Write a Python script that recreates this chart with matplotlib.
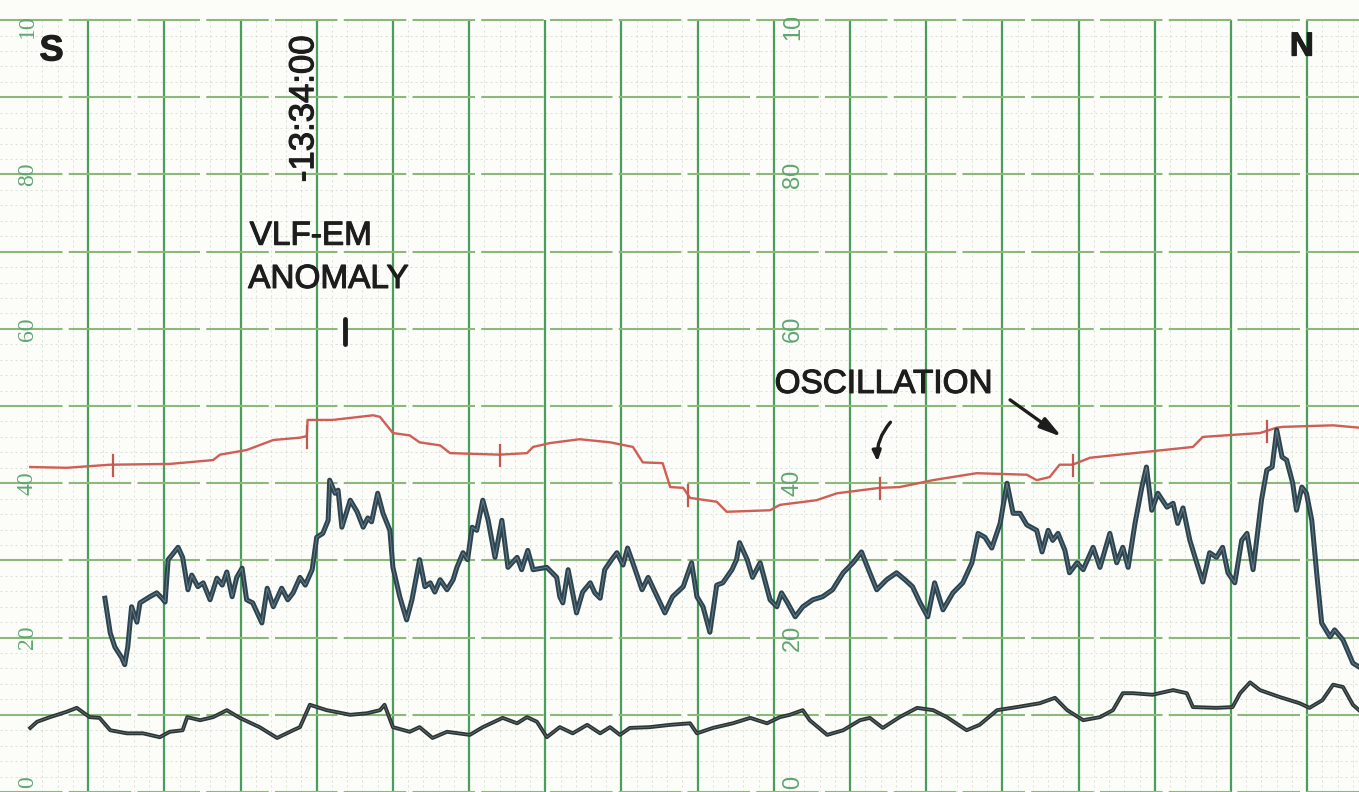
import matplotlib
matplotlib.use("Agg")
import matplotlib.pyplot as plt
import matplotlib.patheffects as pe
import numpy as np
from matplotlib.transforms import Bbox, TransformedBbox

# Strip-chart record: distance along the profile (10 units per major division)
# against chart reading (0-100).

# Upper trace (red pen)
red_x = [2.4, 7.2, 12.9, 20.7, 26.4, 27.3, 30.8, 34.3, 37.8, 38.7,
         38.8, 42.1, 47.4, 48.3, 50.0, 52.2, 53.5, 56.2, 57.5, 64.0,
         67.6, 68.4, 70.6, 74.5, 78.5, 81.5, 82.8, 85.4, 86.4, 88.1,
         89.0, 92.5, 93.8, 99.5, 100.8, 105.6, 108.3, 113.9, 116.5, 120.9,
         126.6, 133.2, 134.5, 136.2, 137.5, 139.2, 141.5, 155.0, 156.3, 163.8,
         166.0, 166.8, 173.4, 176.8]
red_y = [42.1, 42.0, 42.4, 42.5, 43.0, 43.7, 44.3, 45.6, 45.9, 46.1,
         48.2, 48.2, 48.8, 48.6, 46.5, 46.2, 45.3, 44.9, 43.9, 43.7,
         43.9, 44.7, 45.2, 45.7, 45.3, 44.7, 42.7, 42.6, 39.5, 39.4,
         38.1, 37.6, 36.3, 36.5, 37.2, 37.8, 38.7, 39.4, 39.5, 40.4,
         41.3, 41.1, 40.4, 40.8, 42.4, 42.4, 43.3, 44.7, 46.0, 46.5,
         47.2, 47.3, 47.5, 47.2]

# Fiducial marks on the red trace
fiducial_x = [13.3, 38.7, 64.0, 88.7, 113.9, 139.2, 164.7]

# Middle trace (VLF-EM)
vlf_x = [12.2, 12.9, 13.5, 14.4, 14.8, 15.2, 15.7, 16.4, 16.8, 18.1,
         19.0, 19.7, 20.1, 20.5, 21.0, 21.8, 22.4, 23.1, 23.6, 24.4,
         25.1, 26.0, 26.9, 27.6, 28.2, 28.9, 29.5, 30.2, 30.8, 31.6,
         32.8, 33.5, 34.3, 35.4, 36.2, 36.9, 37.8, 38.5, 39.4, 40.0,
         40.8, 41.5, 41.7, 42.4, 42.8, 43.3, 44.4, 45.3, 46.1, 46.7,
         47.2, 48.0, 48.7, 49.6, 50.0, 50.9, 51.8, 52.5, 53.5, 54.2,
         54.9, 55.5, 56.2, 57.1, 57.9, 58.4, 59.2, 59.8, 60.4, 61.0,
         61.8, 62.5, 63.4, 64.3, 65.1, 66.3, 66.9, 67.7, 68.4, 70.2,
         71.5, 71.9, 72.3, 73.0, 74.1, 74.9, 75.9, 76.5, 77.2, 77.8,
         78.7, 79.4, 80.2, 80.8, 81.8, 82.7, 83.5, 84.4, 85.7, 86.7,
         88.1, 89.2, 89.9, 90.7, 91.6, 92.5, 93.3, 94.5, 95.1, 95.5,
         96.5, 97.2, 98.2, 99.5, 100.4, 101.0, 101.8, 102.8, 103.8, 105.1,
         106.4, 107.7, 109.1, 110.4, 111.5, 112.3, 113.5, 114.8, 116.1, 117.2,
         118.2, 119.2, 120.2, 121.1, 122.2, 123.5, 124.8, 126.0, 126.8, 127.7,
         128.6, 129.7, 130.6, 131.4, 132.3, 133.2, 134.5, 135.2, 136.0, 136.6,
         137.3, 138.2, 138.8, 139.8, 140.6, 141.9, 142.8, 144.1, 145.0, 145.8,
         146.5, 147.4, 148.3, 148.9, 149.6, 150.4, 151.6, 152.4, 153.0, 153.7,
         154.6, 155.5, 156.3, 157.2, 158.1, 158.9, 159.6, 160.5, 161.4, 162.1,
         162.9, 164.0, 164.7, 165.4, 166.0, 166.7, 167.3, 168.1, 168.6, 169.3,
         169.9, 170.6, 171.3, 171.9, 173.0, 173.6, 174.7, 176.0, 176.8]
vlf_y = [25.1, 20.6, 18.8, 17.4, 16.5, 18.8, 24.0, 22.0, 24.5, 25.3,
         25.8, 25.1, 24.6, 30.1, 30.7, 31.7, 30.4, 26.2, 28.1, 26.6,
         27.1, 24.9, 27.7, 26.8, 28.5, 25.3, 27.8, 29.0, 24.9, 24.5,
         21.9, 26.4, 24.0, 26.4, 24.9, 25.8, 27.8, 26.8, 28.8, 33.0,
         33.5, 35.2, 40.4, 38.7, 39.1, 34.3, 37.8, 36.3, 34.3, 35.5,
         35.0, 38.7, 36.1, 33.9, 29.1, 25.3, 22.3, 24.9, 30.1, 26.6,
         27.1, 25.9, 27.5, 26.2, 27.5, 29.1, 31.0, 30.1, 34.3, 33.9,
         37.8, 35.2, 30.4, 35.2, 29.1, 30.4, 28.8, 31.3, 28.8, 29.1,
         27.8, 25.3, 24.5, 28.8, 23.2, 25.9, 27.1, 25.8, 25.1, 28.8,
         30.1, 31.0, 29.4, 31.6, 28.8, 26.2, 27.8, 25.9, 23.2, 25.3,
         26.6, 29.7, 25.3, 24.0, 20.7, 26.8, 27.1, 28.8, 30.1, 32.3,
         30.1, 27.8, 29.7, 24.9, 24.0, 25.8, 24.5, 22.7, 24.0, 24.9,
         25.3, 26.2, 28.4, 29.7, 31.1, 29.1, 26.2, 27.5, 28.4, 27.5,
         26.6, 24.5, 22.7, 27.1, 23.6, 25.8, 27.1, 29.7, 33.5, 33.0,
         31.6, 34.8, 40.0, 36.1, 36.1, 34.6, 33.9, 31.1, 33.9, 32.6,
         33.5, 31.3, 28.4, 29.7, 28.8, 31.7, 29.1, 33.5, 29.7, 31.7,
         29.1, 34.8, 39.5, 42.1, 36.5, 38.7, 36.9, 37.4, 34.8, 36.8,
         32.6, 29.7, 27.2, 31.0, 30.4, 31.7, 28.4, 27.1, 32.6, 33.5,
         28.8, 37.8, 41.7, 42.1, 46.9, 43.4, 43.0, 40.0, 36.5, 39.5,
         38.7, 35.2, 27.8, 21.9, 20.1, 21.0, 19.7, 16.7, 16.2]

# Lower trace
base_x = [2.4, 3.3, 5.0, 7.2, 8.5, 10.2, 11.5, 12.9, 15.1, 17.2,
          19.4, 20.7, 22.4, 23.0, 24.7, 26.4, 28.2, 29.9, 32.5, 34.8,
          36.9, 37.8, 39.1, 41.3, 44.4, 46.6, 48.3, 48.9, 50.0, 52.2,
          53.5, 55.2, 57.1, 60.1, 61.8, 64.4, 66.3, 67.6, 68.9, 70.2,
          71.9, 73.6, 75.5, 77.2, 78.5, 79.8, 81.1, 83.7, 86.4, 89.0,
          89.9, 92.0, 94.6, 96.9, 99.1, 100.8, 102.1, 103.8, 104.7, 107.0,
          109.1, 111.3, 112.6, 114.3, 116.5, 118.8, 120.9, 122.7, 125.3, 127.0,
          129.3, 131.9, 134.9, 136.9, 138.5, 140.6, 142.8, 144.5, 145.8, 147.1,
          149.7, 152.4, 154.2, 155.0, 158.1, 160.2, 161.2, 162.5, 163.8, 166.4,
          169.0, 170.3, 172.0, 173.4, 174.7, 176.0, 176.8]
base_y = [8.3, 9.1, 9.7, 10.4, 10.9, 9.7, 9.6, 8.0, 7.6, 7.6,
          7.1, 7.8, 8.0, 9.7, 9.3, 9.7, 10.6, 9.6, 8.4, 7.0,
          8.0, 8.4, 11.3, 10.6, 10.0, 10.2, 10.6, 11.3, 8.4, 7.8,
          8.4, 7.0, 7.8, 7.4, 8.4, 9.6, 8.9, 9.7, 9.1, 7.1,
          8.4, 7.6, 8.7, 7.6, 8.4, 7.4, 8.3, 8.4, 8.7, 8.9,
          7.6, 8.3, 8.9, 9.6, 8.9, 9.7, 10.0, 10.6, 9.3, 7.4,
          8.0, 9.3, 9.6, 8.3, 9.7, 10.9, 10.6, 9.7, 8.0, 8.7,
          10.6, 11.0, 11.5, 12.2, 10.6, 9.3, 9.7, 10.6, 12.8, 12.8,
          12.6, 13.2, 12.8, 11.0, 10.9, 11.0, 12.8, 14.2, 13.2, 12.3,
          11.5, 10.9, 11.9, 13.9, 13.6, 11.3, 10.6]

# Printed scale of the chart paper
scale_values = [0, 20, 40, 60, 80, 100]
scale_columns = [2.0, 102.5]

paper = "#fcfcf9"
major_v = "#4a9e5c"
major_h = "#8cb97b"
minor_c = "#b4c6b2"
label_c = "#5fa673"
ink = "#1d1d1d"

fig = plt.figure(figsize=(13.59, 7.92), dpi=100, facecolor=paper)
ax = fig.add_axes([0, 0, 1, 1])
ax.set_facecolor(paper)
ax.set_xlim(-1.57, 176.8)
ax.set_ylim(0, 102.6)
ax.axis("off")
xmin, xmax = ax.get_xlim()

# Chart-paper grid
minor_x = [v for v in np.arange(0, 178, 2) if v % 10]
minor_y = [v for v in np.arange(0, 101, 2) if v % 10]
ax.vlines(minor_x, 0, 100, colors=minor_c, lw=0.6, linestyles=(0, (2.5, 3.5)), alpha=0.55, zorder=1)
ax.hlines(minor_y, xmin, xmax, colors=minor_c, lw=0.6, linestyles=(0, (2.5, 3.5)), alpha=0.55, zorder=1)
ax.vlines(np.arange(10, 171, 10), 0, 100, colors=major_v, lw=1.6, zorder=2)
ax.hlines(np.arange(0, 101, 10), xmin, xmax, colors=major_h, lw=1.5, linestyles=(0, (30, 3)), zorder=2)

# Scale numbers printed on the paper
clip = TransformedBbox(Bbox([[xmin, 0.0], [xmax, 100.3]]), ax.transData)
for col, fam in zip(scale_columns, ["Liberation Serif", "Liberation Sans"]):
    for v in scale_values:
        t = ax.text(col, max(v, 1.3), str(v), rotation=90, ha="center", va="center",
                    fontsize=17, color=label_c, family=fam, zorder=3)
        t.set_clip_on(True)
        t.set_clip_box(clip)

# Traces
ax.plot(red_x, red_y, color="#cf5e55", lw=1.7, zorder=5, solid_joinstyle="round")
for fx in fiducial_x:
    fy = np.interp(fx, red_x, red_y)
    ax.plot([fx, fx], [fy - 1.5, fy + 1.3], color="#c25850", lw=1.6, zorder=5)

ax.plot(vlf_x, vlf_y, color="#2c4350", lw=3.6, zorder=6, solid_joinstyle="round")
ax.plot(vlf_x, vlf_y, color="#7f959d", lw=0.7, zorder=7, alpha=0.7)
ax.plot(base_x, base_y, color="#2a3434", lw=2.8, zorder=6, solid_joinstyle="round")
ax.plot(base_x, base_y, color="#8a9696", lw=0.6, zorder=7, alpha=0.6)

# Hand lettering
thick = [pe.withStroke(linewidth=0.8, foreground=ink)]
lettering = dict(family=["Liberation Sans", "DejaVu Sans"], color=ink, zorder=8,
                 path_effects=thick)
ax.text(5.2, 96.0, "S", fontsize=26, fontweight="bold", ha="center", va="center", **lettering)
ax.text(169.3, 96.5, "N", fontsize=24, fontweight="bold", ha="center", va="center", **lettering)
ax.text(38.3, 88.5, "-13:34:00", rotation=90, fontsize=25, ha="center", va="center", **lettering)
ax.text(31.2, 70.9, "VLF-EM", fontsize=24, ha="left", va="baseline", **lettering)
ax.text(31.0, 65.3, "ANOMALY", fontsize=24, ha="left", va="baseline", **lettering)
ax.text(100.1, 51.7, "OSCILLATION", fontsize=24, ha="left", va="baseline", **lettering)

ax.plot([43.7, 43.7], [61.3, 58.0], color=ink, lw=3.5, solid_capstyle="round", zorder=8)
ax.annotate("", xy=(137.8, 46.0), xytext=(131.0, 50.8),
            arrowprops=dict(arrowstyle="-|>,head_length=1.3,head_width=0.35",
                            color=ink, lw=2.4, shrinkA=0, shrinkB=0), zorder=8)
ax.annotate("", xy=(113.6, 42.8), xytext=(115.3, 47.9),
            arrowprops=dict(arrowstyle="-|>,head_length=0.6,head_width=0.25",
                            color=ink, lw=2.4, shrinkA=0, shrinkB=0,
                            connectionstyle="arc3,rad=0.2"), zorder=8)

fig.savefig("out.png", dpi=100, facecolor=paper)
